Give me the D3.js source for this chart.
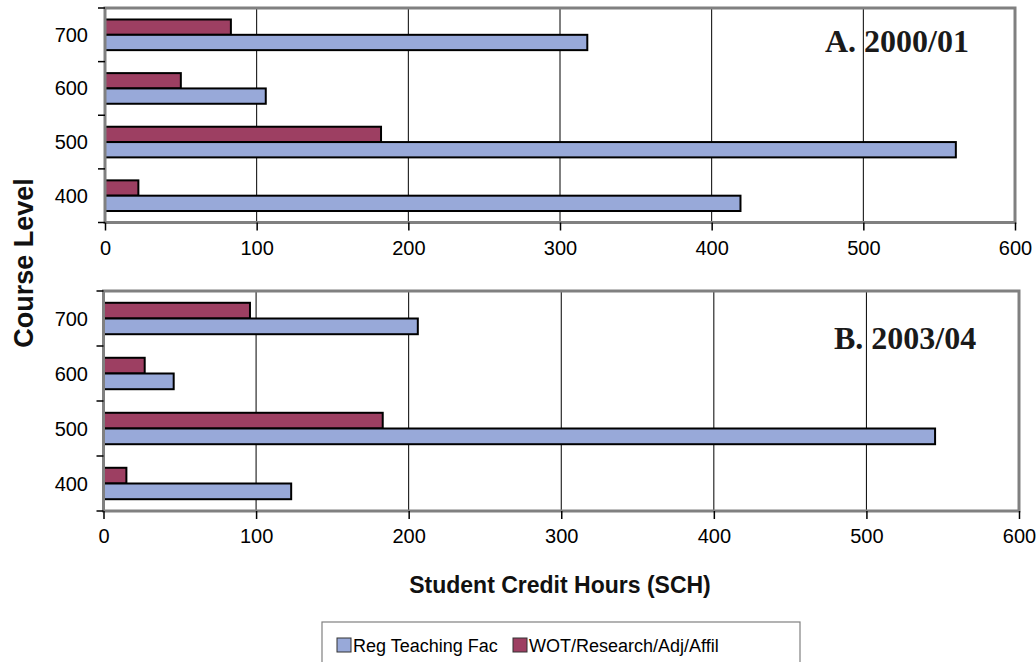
<!DOCTYPE html>
<html>
<head>
<meta charset="utf-8">
<script src="https://cdn.jsdelivr.net/npm/d3@7"></script>
<style>
  html, body { margin: 0; padding: 0; background: #fff; }
  svg { display: block; }
</style>
</head>
<body>
<svg id="chart" width="1036" height="662"></svg>
<script>
// Course levels, bottom to top
const categories = ["400", "500", "600", "700"];
const xTickValues = [0, 100, 200, 300, 400, 500, 600];
const seriesNames = ["Reg Teaching Fac", "WOT/Research/Adj/Affil"];
const panelTitles = ["A. 2000/01", "B. 2003/04"];

// Student credit hours by course level
const regTeaching2000 = [419, 561, 106, 318];
const wotResearch2000 = [22, 182, 50, 83];
const regTeaching2003 = [123, 545, 46, 206];
const wotResearch2003 = [15, 183, 27, 96];

const colors = { reg: "#98a9d9", wot: "#9d3f62" };

const svg = d3.select("#chart");

const panels = [
  { title: panelTitles[0], reg: regTeaching2000, wot: wotResearch2000,
    left: 105, right: 1015, top: 8, bottom: 222.5, titleX: 825, titleY: 52 },
  { title: panelTitles[1], reg: regTeaching2003, wot: wotResearch2003,
    left: 103.5, right: 1019, top: 291, bottom: 511, titleX: 834, titleY: 349 }
];

panels.forEach(p => {
  const g = svg.append("g");
  const x = d3.scaleLinear().domain([0, 600]).range([p.left, p.right]);
  const y = d3.scaleBand().domain(categories.slice().reverse()).range([p.top, p.bottom]);
  const bw = y.bandwidth();
  const barH = bw / 3.5;
  const margin = (bw - 2 * barH) / 2;

  // vertical gridlines
  g.selectAll("line.grid").data(xTickValues.filter(v => v > 0 && v < 600)).join("line")
    .attr("x1", d => x(d)).attr("x2", d => x(d))
    .attr("y1", p.top).attr("y2", p.bottom)
    .attr("stroke", "#000").attr("stroke-width", 1);

  const rows = categories.map((c, i) => ({ c, reg: p.reg[i], wot: p.wot[i] }));

  // WOT/Research bars (upper in each group)
  g.selectAll("rect.wot").data(rows).join("rect")
    .attr("x", x(0))
    .attr("y", d => y(d.c) + margin)
    .attr("width", d => x(d.wot) - x(0))
    .attr("height", barH)
    .attr("fill", colors.wot).attr("stroke", "#000").attr("stroke-width", 2);

  // Regular teaching faculty bars (lower in each group)
  g.selectAll("rect.reg").data(rows).join("rect")
    .attr("x", x(0))
    .attr("y", d => y(d.c) + margin + barH)
    .attr("width", d => x(d.reg) - x(0))
    .attr("height", barH)
    .attr("fill", colors.reg).attr("stroke", "#000").attr("stroke-width", 2);

  // plot frame
  g.append("rect")
    .attr("x", p.left).attr("y", p.top)
    .attr("width", p.right - p.left).attr("height", p.bottom - p.top)
    .attr("fill", "none").attr("stroke", "#808080").attr("stroke-width", 3);

  // x axis
  const xAxis = d3.axisBottom(x).tickValues(xTickValues).tickSize(8).tickPadding(10)
    .tickFormat(d3.format("d"));
  const xa = g.append("g").attr("transform", `translate(0,${p.bottom})`).call(xAxis);
  xa.select(".domain").remove();
  xa.selectAll(".tick line").attr("stroke", "#000").attr("stroke-width", 1.5);
  xa.selectAll(".tick text")
    .attr("font-family", "Liberation Sans, Arial, sans-serif")
    .attr("font-size", 20).attr("fill", "#000");

  // y axis: ticks at band boundaries, labels at band centres
  const bounds = y.domain().map(c => y(c)).concat([p.bottom]);
  g.selectAll("line.ytick").data(bounds).join("line")
    .attr("x1", p.left - 7).attr("x2", p.left)
    .attr("y1", d => d).attr("y2", d => d)
    .attr("stroke", "#000").attr("stroke-width", 1.5);
  g.selectAll("text.ylab").data(categories).join("text")
    .attr("x", 88)
    .attr("y", d => y(d) + bw / 2)
    .attr("dy", "0.35em")
    .attr("text-anchor", "end")
    .attr("font-family", "Liberation Sans, Arial, sans-serif")
    .attr("font-size", 20).attr("fill", "#000")
    .text(d => d);

  // panel title
  g.append("text")
    .attr("x", p.titleX).attr("y", p.titleY)
    .attr("font-family", "Liberation Serif, Times New Roman, serif")
    .attr("font-weight", "bold").attr("font-size", 32).attr("fill", "#1a1a1a")
    .text(p.title);
});

// axis titles
svg.append("text")
  .attr("transform", "translate(33,263) rotate(-90)")
  .attr("text-anchor", "middle")
  .attr("font-family", "Liberation Sans, Arial, sans-serif")
  .attr("font-weight", "bold").attr("font-size", 27).attr("fill", "#111")
  .text("Course Level");

svg.append("text")
  .attr("x", 560).attr("y", 593)
  .attr("text-anchor", "middle")
  .attr("font-family", "Liberation Sans, Arial, sans-serif")
  .attr("font-weight", "bold").attr("font-size", 23).attr("fill", "#111")
  .text("Student Credit Hours (SCH)");

// legend
const legend = svg.append("g");
legend.append("rect")
  .attr("x", 322).attr("y", 622).attr("width", 478).attr("height", 44)
  .attr("fill", "#fff").attr("stroke", "#808080").attr("stroke-width", 1.2);
const legendItems = [
  { name: seriesNames[0], color: colors.reg, x: 337 },
  { name: seriesNames[1], color: colors.wot, x: 513 }
];
legendItems.forEach(it => {
  legend.append("rect")
    .attr("x", it.x).attr("y", 638).attr("width", 14).attr("height", 14)
    .attr("fill", it.color).attr("stroke", "#333").attr("stroke-width", 1);
  legend.append("text")
    .attr("x", it.x + 16).attr("y", 652)
    .attr("font-family", "Liberation Sans, Arial, sans-serif")
    .attr("font-size", 18).attr("fill", "#000")
    .text(it.name);
});
</script>
</body>
</html>
